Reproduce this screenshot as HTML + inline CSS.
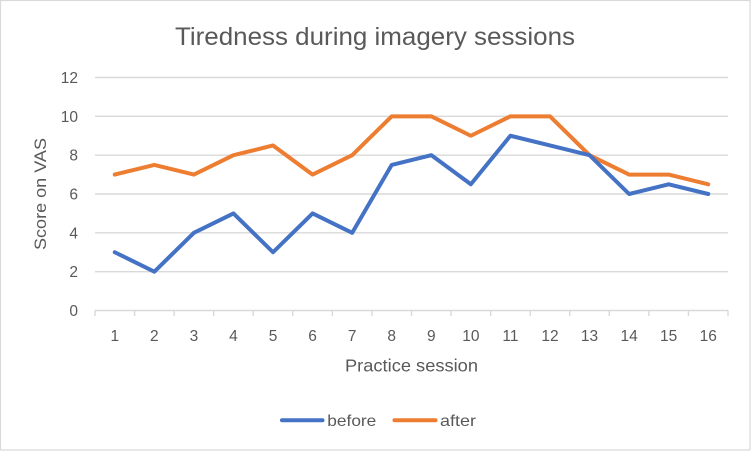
<!DOCTYPE html>
<html>
<head>
<meta charset="utf-8">
<style>
  html, body { margin:0; padding:0; background:#fff; }
  svg { display:block; }
  text { font-family: "Liberation Sans", sans-serif; fill:#595959; }
</style>
</head>
<body>
<svg width="752" height="452" viewBox="0 0 752 452" xmlns="http://www.w3.org/2000/svg">
  <rect x="0" y="0" width="752" height="452" fill="#fff"/>
  <rect x="0.5" y="0.5" width="749.5" height="449.5" fill="#fff" stroke="#D9D9D9" stroke-width="1.2"/>

  <!-- Title -->
  <text x="375" y="45" font-size="25" text-anchor="middle" textLength="400" lengthAdjust="spacingAndGlyphs">Tiredness during imagery sessions</text>

  <!-- Gridlines -->
  <g stroke="#D9D9D9" stroke-width="1.4">
    <line x1="95" y1="77.5" x2="728" y2="77.5"/>
    <line x1="95" y1="116.33" x2="728" y2="116.33"/>
    <line x1="95" y1="155.17" x2="728" y2="155.17"/>
    <line x1="95" y1="194" x2="728" y2="194"/>
    <line x1="95" y1="232.83" x2="728" y2="232.83"/>
    <line x1="95" y1="271.67" x2="728" y2="271.67"/>
    <line x1="95" y1="310.5" x2="728" y2="310.5"/>
  </g>
  <!-- X axis ticks -->
  <g stroke="#D9D9D9" stroke-width="1.4">
    <line x1="95" y1="310.5" x2="95" y2="316"/>
    <line x1="134.56" y1="310.5" x2="134.56" y2="316"/>
    <line x1="174.13" y1="310.5" x2="174.13" y2="316"/>
    <line x1="213.69" y1="310.5" x2="213.69" y2="316"/>
    <line x1="253.25" y1="310.5" x2="253.25" y2="316"/>
    <line x1="292.81" y1="310.5" x2="292.81" y2="316"/>
    <line x1="332.38" y1="310.5" x2="332.38" y2="316"/>
    <line x1="371.94" y1="310.5" x2="371.94" y2="316"/>
    <line x1="411.5" y1="310.5" x2="411.5" y2="316"/>
    <line x1="451.06" y1="310.5" x2="451.06" y2="316"/>
    <line x1="490.63" y1="310.5" x2="490.63" y2="316"/>
    <line x1="530.19" y1="310.5" x2="530.19" y2="316"/>
    <line x1="569.75" y1="310.5" x2="569.75" y2="316"/>
    <line x1="609.31" y1="310.5" x2="609.31" y2="316"/>
    <line x1="648.88" y1="310.5" x2="648.88" y2="316"/>
    <line x1="688.44" y1="310.5" x2="688.44" y2="316"/>
    <line x1="728" y1="310.5" x2="728" y2="316"/>
  </g>

  <!-- Y labels -->
  <g font-size="15.5" text-anchor="end">
    <text x="78" y="83">12</text>
    <text x="78" y="121.8">10</text>
    <text x="78" y="160.7">8</text>
    <text x="78" y="199.5">6</text>
    <text x="78" y="238.3">4</text>
    <text x="78" y="277.2">2</text>
    <text x="78" y="316">0</text>
  </g>

  <!-- X labels -->
  <g font-size="15.5" text-anchor="middle">
    <text x="114.78" y="341">1</text>
    <text x="154.34" y="341">2</text>
    <text x="193.91" y="341">3</text>
    <text x="233.47" y="341">4</text>
    <text x="273.03" y="341">5</text>
    <text x="312.59" y="341">6</text>
    <text x="352.16" y="341">7</text>
    <text x="391.72" y="341">8</text>
    <text x="431.28" y="341">9</text>
    <text x="470.84" y="341">10</text>
    <text x="510.41" y="341">11</text>
    <text x="549.97" y="341">12</text>
    <text x="589.53" y="341">13</text>
    <text x="629.09" y="341">14</text>
    <text x="668.66" y="341">15</text>
    <text x="708.22" y="341">16</text>
  </g>

  <!-- Axis titles -->
  <text transform="translate(46,194) rotate(-90)" x="0" y="0" font-size="17" text-anchor="middle" textLength="112" lengthAdjust="spacingAndGlyphs">Score on VAS</text>
  <text x="411.5" y="371.7" font-size="17.5" text-anchor="middle" textLength="133" lengthAdjust="spacingAndGlyphs">Practice session</text>

  <!-- Series: after (orange) -->
  <polyline fill="none" stroke="#ED7D31" stroke-width="4" stroke-linejoin="round" stroke-linecap="round"
    points="114.78,174.58 154.34,164.88 193.91,174.58 233.47,155.17 273.03,145.46 312.59,174.58 352.16,155.17 391.72,116.33 431.28,116.33 470.84,135.75 510.41,116.33 549.97,116.33 589.53,155.17 629.09,174.58 668.66,174.58 708.22,184.29"/>

  <!-- Series: before (blue) -->
  <polyline fill="none" stroke="#4472C4" stroke-width="4" stroke-linejoin="round" stroke-linecap="round"
    points="114.78,252.25 154.34,271.67 193.91,232.83 233.47,213.42 273.03,252.25 312.59,213.42 352.16,232.83 391.72,164.88 431.28,155.17 470.84,184.29 510.41,135.75 549.97,145.46 589.53,155.17 629.09,194 668.66,184.29 708.22,194"/>

  <!-- Legend -->
  <line x1="282" y1="420.3" x2="322.5" y2="420.3" stroke="#4472C4" stroke-width="4" stroke-linecap="round"/>
  <text x="327.3" y="426" font-size="16" textLength="49" lengthAdjust="spacingAndGlyphs">before</text>
  <line x1="394.5" y1="420.3" x2="435.5" y2="420.3" stroke="#ED7D31" stroke-width="4" stroke-linecap="round"/>
  <text x="440" y="426" font-size="16" textLength="36" lengthAdjust="spacingAndGlyphs">after</text>
</svg>
</body>
</html>
